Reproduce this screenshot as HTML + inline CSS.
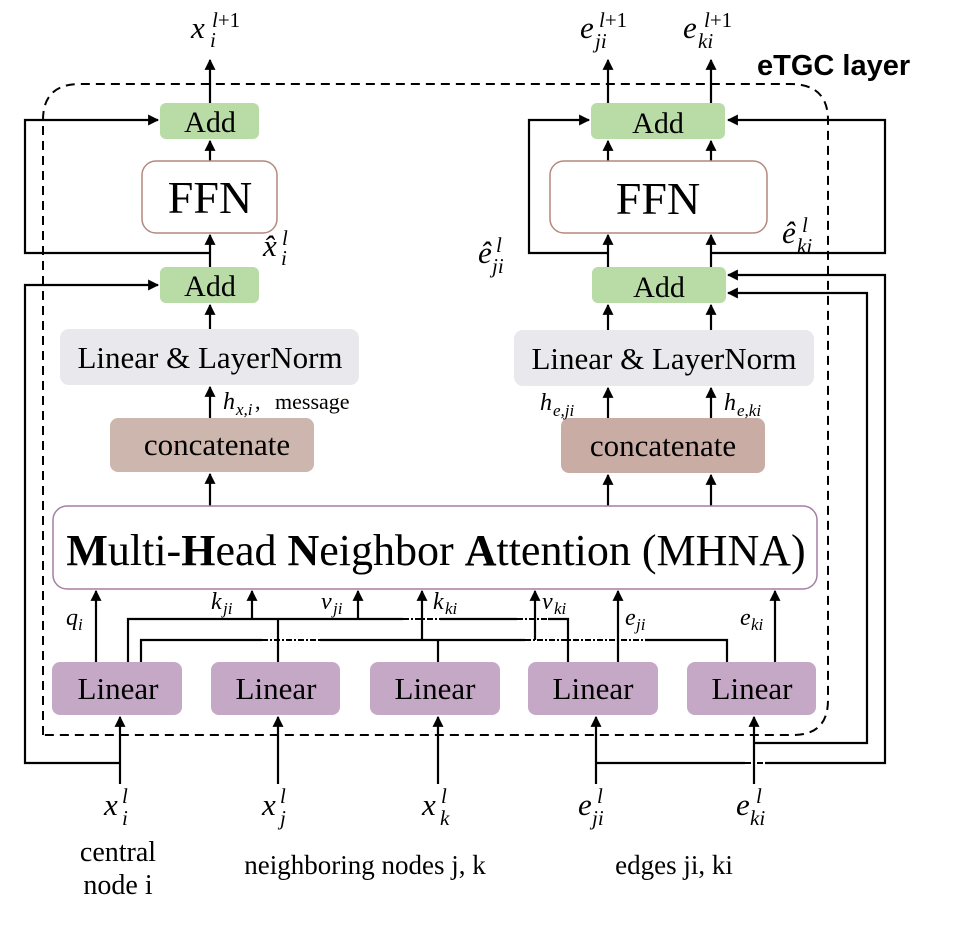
<!DOCTYPE html>
<html><head><meta charset="utf-8"><style>
body{margin:0;background:#fff;}
svg{display:block;}
.s{font-family:"Liberation Serif",serif;fill:#000;}
.m{font-family:"Liberation Serif",serif;font-style:italic;fill:#000;}
.u{font-style:normal;}
</style></head><body>
<svg width="955" height="926" viewBox="0 0 955 926" xmlns="http://www.w3.org/2000/svg">
<defs>
<marker id="a" viewBox="0 0 10 10" refX="9" refY="5" markerWidth="5" markerHeight="5" orient="auto-start-reverse"><path d="M0,0 L10,5 L0,10 z" fill="#000"/></marker>
</defs>
<path d="M43,735 L43,120 Q43,84 80,84 L790,84 Q828,84 828,120 L828,700 Q828,735 793,735 Z" fill="none" stroke="#000" stroke-width="2" stroke-dasharray="9,6"/>
<text x="757" y="75" font-family="Liberation Sans,sans-serif" font-weight="bold" font-size="29">eTGC layer</text>

<g stroke="#000" stroke-width="2.2" fill="none">
<line x1="210" y1="103" x2="210" y2="60" marker-end="url(#a)"/>
<line x1="210" y1="161" x2="210" y2="141" marker-end="url(#a)"/>
<line x1="210" y1="267" x2="210" y2="235" marker-end="url(#a)"/>
<line x1="210" y1="329" x2="210" y2="305" marker-end="url(#a)"/>
<line x1="210" y1="418" x2="210" y2="387" marker-end="url(#a)"/>
<line x1="210" y1="506" x2="210" y2="474" marker-end="url(#a)"/>
<polyline points="210,253 25,253 25,120 158,120" marker-end="url(#a)"/>
<polyline points="120,763 25,763 25,285 158,285" marker-end="url(#a)"/>
<line x1="608" y1="103" x2="608" y2="60" marker-end="url(#a)"/>
<line x1="711" y1="103" x2="711" y2="60" marker-end="url(#a)"/>
<line x1="608" y1="161" x2="608" y2="141" marker-end="url(#a)"/>
<line x1="711" y1="161" x2="711" y2="141" marker-end="url(#a)"/>
<line x1="608" y1="267" x2="608" y2="235" marker-end="url(#a)"/>
<line x1="711" y1="267" x2="711" y2="235" marker-end="url(#a)"/>
<line x1="608" y1="330" x2="608" y2="305" marker-end="url(#a)"/>
<line x1="711" y1="330" x2="711" y2="305" marker-end="url(#a)"/>
<line x1="608" y1="418" x2="608" y2="388" marker-end="url(#a)"/>
<line x1="711" y1="418" x2="711" y2="388" marker-end="url(#a)"/>
<line x1="608" y1="506" x2="608" y2="475" marker-end="url(#a)"/>
<line x1="711" y1="506" x2="711" y2="475" marker-end="url(#a)"/>
<polyline points="608,253 529,253 529,120 589,120" marker-end="url(#a)"/>
<polyline points="711,253 885,253 885,120 728,120" marker-end="url(#a)"/>
<polyline points="596,763 745,763" /><polyline points="765,763 885,763 885,275 728,275" marker-end="url(#a)"/>
<polyline points="754,743 867,743 867,293 728,293" marker-end="url(#a)"/>
<line x1="96" y1="662" x2="96" y2="591" marker-end="url(#a)"/>
<polyline points="128,662 128,619 403,619"/><polyline points="440,619 517,619"/><polyline points="548,619 568,619 568,662"/>
<line x1="278" y1="619" x2="278" y2="662"/>
<line x1="252" y1="619" x2="252" y2="591" marker-end="url(#a)"/>
<line x1="358" y1="619" x2="358" y2="591" marker-end="url(#a)"/>
<polyline points="141,662 141,640 262,640"/><polyline points="320,640 525,640"/><polyline points="645,640 727,640 727,662"/>
<line x1="438" y1="640" x2="438" y2="662"/>
<line x1="422" y1="640" x2="422" y2="591" marker-end="url(#a)"/>
<line x1="535" y1="640" x2="535" y2="591" marker-end="url(#a)"/>
<line x1="618" y1="662" x2="618" y2="591" marker-end="url(#a)"/>
<line x1="775" y1="662" x2="775" y2="591" marker-end="url(#a)"/>
<line x1="120" y1="784" x2="120" y2="717" marker-end="url(#a)"/>
<line x1="278" y1="784" x2="278" y2="717" marker-end="url(#a)"/>
<line x1="438" y1="784" x2="438" y2="717" marker-end="url(#a)"/>
<line x1="596" y1="784" x2="596" y2="717" marker-end="url(#a)"/>
<line x1="754" y1="784" x2="754" y2="717" marker-end="url(#a)"/>
</g>
<g stroke="#000" stroke-width="2" stroke-dasharray="6,2,2,2" fill="none">
<line x1="262" y1="640" x2="320" y2="640"/><line x1="525" y1="640" x2="645" y2="640"/>
<line x1="403" y1="619" x2="440" y2="619"/><line x1="517" y1="619" x2="548" y2="619"/>
<line x1="745" y1="763" x2="765" y2="763"/>
</g>

<rect x="160" y="103" width="99" height="36" rx="6" fill="#b9dba6"/>
<rect x="142" y="161" width="135" height="72" rx="14" fill="#fff" stroke="#b4897c" stroke-width="1.5"/>
<rect x="160" y="267" width="99" height="36" rx="6" fill="#b9dba6"/>
<rect x="60" y="329" width="299" height="56" rx="9" fill="#e8e8ed"/>
<rect x="110" y="418" width="204" height="54" rx="8" fill="#cdb6ad"/>
<rect x="591" y="103" width="134" height="36" rx="6" fill="#b9dba6"/>
<rect x="550" y="161" width="217" height="72" rx="14" fill="#fff" stroke="#b4897c" stroke-width="1.5"/>
<rect x="592" y="267" width="134" height="36" rx="6" fill="#b9dba6"/>
<rect x="514" y="330" width="300" height="56" rx="9" fill="#e8e8ed"/>
<rect x="561" y="418" width="204" height="55" rx="8" fill="#c9ada5"/>
<rect x="53" y="506" width="764" height="83" rx="14" fill="#fff" stroke="#a57fa5" stroke-width="1.5"/>
<g fill="#c5a8c5">
<rect x="52" y="662" width="130" height="53" rx="8"/>
<rect x="211" y="662" width="129" height="53" rx="8"/>
<rect x="370" y="662" width="130" height="53" rx="8"/>
<rect x="528" y="662" width="130" height="53" rx="8"/>
<rect x="687" y="662" width="129" height="53" rx="8"/>
</g>

<g class="s" text-anchor="middle">
<text x="210" y="132" font-size="30">Add</text>
<text x="210" y="213" font-size="46">FFN</text>
<text x="210" y="296" font-size="30">Add</text>
<text x="210" y="368" font-size="31">Linear &amp; LayerNorm</text>
<text x="217" y="455" font-size="31">concatenate</text>
<text x="658" y="133" font-size="30">Add</text>
<text x="658" y="214" font-size="46">FFN</text>
<text x="659" y="297" font-size="30">Add</text>
<text x="664" y="369" font-size="31">Linear &amp; LayerNorm</text>
<text x="663" y="456" font-size="31">concatenate</text>
<text x="436" y="565" font-size="44"><tspan font-weight="bold">M</tspan>ulti-<tspan font-weight="bold">H</tspan>ead <tspan font-weight="bold">N</tspan>eighbor <tspan font-weight="bold">A</tspan>ttention (MHNA)</text>
<text x="118" y="699" font-size="31">Linear</text>
<text x="276" y="699" font-size="31">Linear</text>
<text x="435" y="699" font-size="31">Linear</text>
<text x="593" y="699" font-size="31">Linear</text>
<text x="752" y="699" font-size="31">Linear</text>
<text x="118" y="861" font-size="28">central</text>
<text x="118" y="894" font-size="28">node i</text>
<text x="365" y="874" font-size="27">neighboring nodes j, k</text>
<text x="674" y="874" font-size="27">edges ji, ki</text>
</g>

<g class="m">
<!-- top outputs -->
<text x="191" y="38" font-size="31">x</text><text x="210" y="47" font-size="21">i</text><text x="212" y="27" font-size="21">l<tspan class="u">+1</tspan></text>
<text x="580" y="38" font-size="31">e</text><text x="595" y="48" font-size="21">ji</text><text x="599" y="27" font-size="21">l<tspan class="u">+1</tspan></text>
<text x="683" y="38" font-size="31">e</text><text x="698" y="48" font-size="21">ki</text><text x="704" y="27" font-size="21">l<tspan class="u">+1</tspan></text>
<!-- hats -->
<text x="263" y="256" font-size="31">x̂</text><text x="281" y="265" font-size="21">i</text><text x="282" y="245" font-size="21">l</text>
<text x="478" y="263" font-size="31">ê</text><text x="492" y="273" font-size="21">ji</text><text x="496" y="252" font-size="21">l</text>
<text x="782" y="243" font-size="31">ê</text><text x="797" y="253" font-size="21">ki</text><text x="802" y="232" font-size="21">l</text>
<!-- h labels -->
<text x="223" y="409" font-size="24">h</text><text x="236" y="415" font-size="17">x,i</text><text x="255" y="409" font-size="22" class="u">,</text>
<text x="540" y="410" font-size="24">h</text><text x="553" y="416" font-size="17">e,ji</text>
<text x="724" y="410" font-size="24">h</text><text x="737" y="416" font-size="17">e,ki</text>
<!-- attention labels -->
<text x="66" y="625" font-size="24">q</text><text x="78" y="630" font-size="17">i</text>
<text x="211" y="609" font-size="24">k</text><text x="223" y="614" font-size="17">ji</text>
<text x="321" y="609" font-size="24">v</text><text x="333" y="614" font-size="17">ji</text>
<text x="433" y="609" font-size="24">k</text><text x="445" y="614" font-size="17">ki</text>
<text x="542" y="609" font-size="24">v</text><text x="554" y="614" font-size="17">ki</text>
<text x="625" y="625" font-size="24">e</text><text x="636" y="630" font-size="17">ji</text>
<text x="740" y="625" font-size="24">e</text><text x="751" y="630" font-size="17">ki</text>
<!-- inputs -->
<text x="104" y="815" font-size="31">x</text><text x="122" y="825" font-size="21">i</text><text x="122" y="803" font-size="21">l</text>
<text x="262" y="815" font-size="31">x</text><text x="280" y="825" font-size="21">j</text><text x="280" y="803" font-size="21">l</text>
<text x="422" y="815" font-size="31">x</text><text x="440" y="825" font-size="21">k</text><text x="441" y="803" font-size="21">l</text>
<text x="578" y="815" font-size="31">e</text><text x="592" y="825" font-size="21">ji</text><text x="597" y="803" font-size="21">l</text>
<text x="736" y="815" font-size="31">e</text><text x="750" y="825" font-size="21">ki</text><text x="756" y="803" font-size="21">l</text>
</g>
<text x="275" y="409" class="s" font-size="22">message</text>
</svg>
</body></html>
